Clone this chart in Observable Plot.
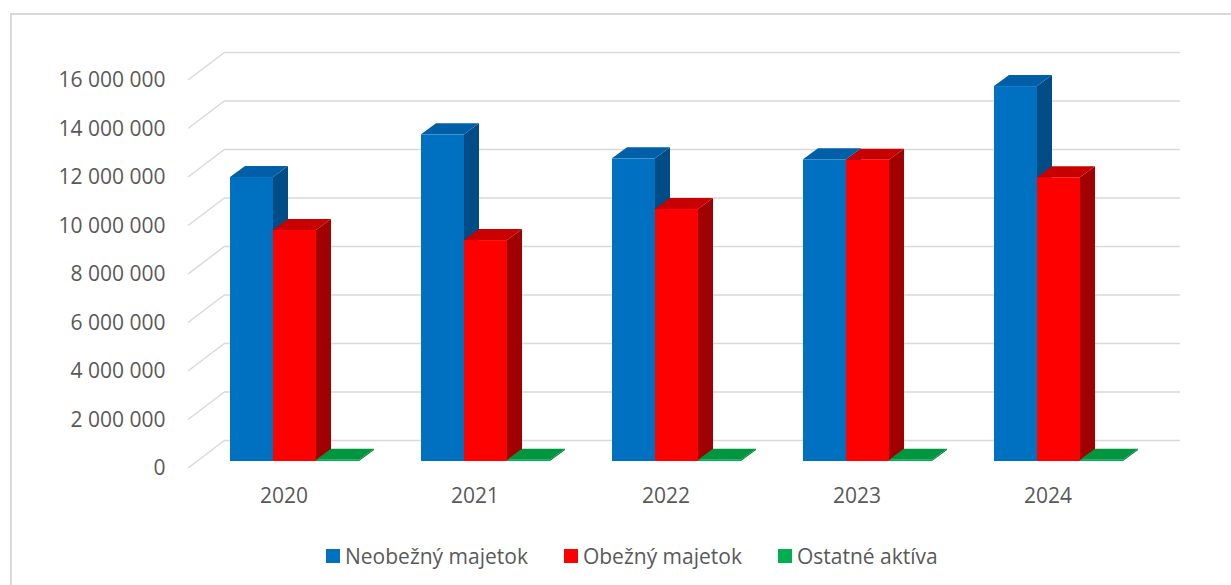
<!DOCTYPE html>
<html>
<head>
<meta charset="utf-8">
<script src="https://cdn.jsdelivr.net/npm/d3@7"></script>
<script src="https://cdn.jsdelivr.net/npm/@observablehq/plot@0.6"></script>
<style>
  html, body { margin: 0; padding: 0; background: #fff; overflow: hidden; }
  body { width: 1231px; height: 585px; position: relative; font-family: "Open Sans", sans-serif; }
  #frame { position: absolute; left: 10px; top: 13px; width: 1300px; height: 700px; border: 2px solid #d9d9d9; box-sizing: border-box; }
  #chart { position: absolute; left: 0; top: 0; }
  #legend { position: absolute; left: 326px; top: 543px; display: flex; align-items: center; font-size: 21px; line-height: 26px; color: #595959; white-space: nowrap; }
  #legend .item { display: flex; align-items: center; margin-right: 36px; }
  #legend .sw { width: 14px; height: 14px; margin-right: 5px; }
</style>
</head>
<body>
<div id="frame"></div>
<div id="chart"></div>
<div id="legend"></div>
<script>
// ---- data ----
const years = ["2020", "2021", "2022", "2023", "2024"];
const seriesNames = ["Neobežný majetok", "Obežný majetok", "Ostatné aktíva"];
const neobeznyMajetok = [11710000, 13470000, 12480000, 12440000, 15460000];
const obeznyMajetok   = [9530000, 9110000, 10390000, 12420000, 11700000];
const ostatneAktiva   = [50000, 50000, 50000, 50000, 50000];
const yTicks = [0, 2000000, 4000000, 6000000, 8000000, 10000000, 12000000, 14000000, 16000000];

const seriesValues = [neobeznyMajetok, obeznyMajetok, ostatneAktiva];
const frontColors = ["#0070C0", "#FF0000", "#00B050"];
const sideColors  = ["#004C86", "#A00000", "#007A38"];
const topColors   = ["#005FA6", "#C80000", "#00963F"];

// ---- 3D geometry (pixels) ----
const WALL_DX = -37, WALL_DY = 28;   // back wall -> front edge of floor
const BAR_DX = -26, BAR_DY = 21;     // back wall -> bar front face
const DEPTH_DX = 15, DEPTH_DY = -11; // bar depth

const fmt = (() => {
  const loc = d3.formatLocale({decimal: ",", thousands: " ", grouping: [3], currency: ["", ""]});
  return loc.format(",");
})();

function bar3d(si) {
  const rows = years.map((y, i) => ({year: y, value: seriesValues[si][i]}));
  return Plot.barY(rows, {
    x: "year", y1: 0, y2: "value", fill: frontColors[si],
    render(index, scales, values, dims) {
      const g = d3.create("svg:g");
      const bw = scales.x.bandwidth();
      const w = bw / 3;
      for (const i of index) {
        const d = rows[i];
        const x0 = scales.x(d.year) + si * w + BAR_DX;
        const x1 = x0 + w;
        const yb = scales.y(0) + BAR_DY;
        const yt = scales.y(d.value) + BAR_DY;
        const pts = (a) => a.map(p => p.join(",")).join(" ");
        g.append("polygon")
          .attr("points", pts([[x1, yb], [x1 + DEPTH_DX, yb + DEPTH_DY], [x1 + DEPTH_DX, yt + DEPTH_DY], [x1, yt]]))
          .attr("fill", sideColors[si]);
        g.append("polygon")
          .attr("points", pts([[x0, yt], [x0 + DEPTH_DX, yt + DEPTH_DY], [x1 + DEPTH_DX, yt + DEPTH_DY], [x1, yt]]))
          .attr("fill", topColors[si]);
        g.append("rect")
          .attr("x", x0).attr("y", yt).attr("width", w).attr("height", Math.max(0.5, yb - yt))
          .attr("fill", frontColors[si]);
      }
      return g.node();
    }
  });
}

const sideLines = Plot.ruleY(yTicks, {
  y: d => d,
  render(index, scales, values, dims) {
    const g = d3.create("svg:g").attr("stroke", "#d9d9d9").attr("stroke-width", 1.5);
    for (const i of index) {
      const t = yTicks[i];
      const yy = scales.y(t);
      g.append("line")
        .attr("x1", dims.marginLeft + WALL_DX).attr("y1", yy + WALL_DY)
        .attr("x2", dims.marginLeft).attr("y2", yy);
    }
    return g.node();
  }
});

const chart = Plot.plot({
  width: 1231,
  height: 520,
  marginLeft: 225,
  marginRight: 51,
  marginTop: 52,
  marginBottom: 80,
  style: {fontFamily: "'Open Sans', sans-serif", color: "#595959", background: "transparent", overflow: "visible"},
  x: {domain: years, type: "band", paddingInner: 0.325, paddingOuter: 0.1625},
  y: {domain: [0, 16000000], ticks: yTicks},
  marks: [
    Plot.ruleY(yTicks, {stroke: "#d9d9d9", strokeWidth: 1.5}),
    sideLines,
    bar3d(0),
    bar3d(1),
    bar3d(2),
    Plot.axisY({ticks: yTicks, tickSize: 0, tickPadding: 60, dy: WALL_DY, tickFormat: fmt, fontSize: 21, label: null}),
    Plot.axisX({tickSize: 0, tickPadding: 48, dx: WALL_DX, fontSize: 21, label: null})
  ]
});
document.getElementById("chart").appendChild(chart);

const legend = document.getElementById("legend");
seriesNames.forEach((name, i) => {
  const item = document.createElement("div");
  item.className = "item";
  const sw = document.createElement("span");
  sw.className = "sw";
  sw.style.background = frontColors[i];
  const lab = document.createElement("span");
  lab.textContent = name;
  item.appendChild(sw);
  item.appendChild(lab);
  legend.appendChild(item);
});
</script>
</body>
</html>
